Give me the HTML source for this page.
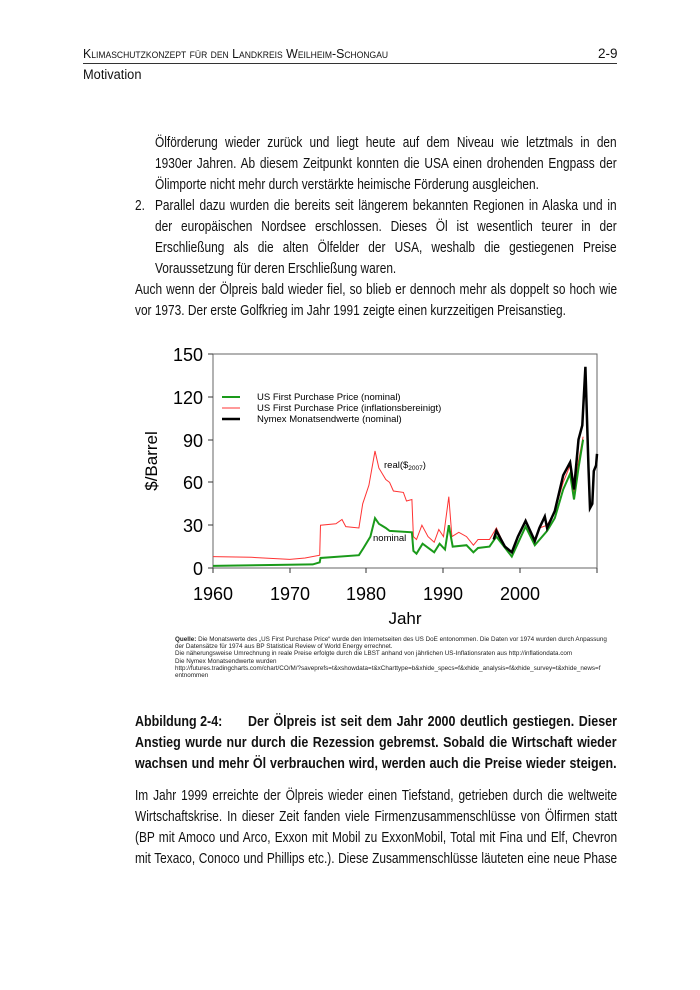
<!DOCTYPE html>
<html><head><meta charset="utf-8"><style>
body{margin:0;background:#fff;width:700px;height:990px;position:relative;overflow:hidden;font-family:"Liberation Sans",sans-serif;color:#111}
.l{position:absolute;font-size:14.5px;white-space:nowrap;line-height:1;transform:scaleX(0.82);transform-origin:0 0}
.j{text-align:justify;text-align-last:justify;white-space:nowrap}
.b{font-weight:bold;transform:scaleX(0.86)}
.s{position:absolute;left:175px;font-family:"Liberation Sans",sans-serif;font-size:6.3px;line-height:7.2px;width:440px;color:#222}
</style></head><body>
<div class="l" style="left:83px;top:47px;font-size:13px;font-variant:small-caps;transform:scaleX(0.95)">Klimaschutzkonzept für den Landkreis Weilheim-Schongau</div>
<div class="l" style="left:598px;top:47px;font-size:13.5px;transform:none">2-9</div>
<div style="position:absolute;left:83px;top:63px;width:534px;height:1px;background:#333"></div>
<div class="l" style="left:83px;top:68px;font-size:13.5px;transform:scaleX(0.95)">Motivation</div>

<div class="l j" style="left:155px;top:136px;width:563px">Ölförderung wieder zurück und liegt heute auf dem Niveau wie letztmals in den</div>
<div class="l j" style="left:155px;top:157px;width:563px">1930er Jahren. Ab diesem Zeitpunkt konnten die USA einen drohenden Engpass der</div>
<div class="l" style="left:155px;top:178px">Ölimporte nicht mehr durch verstärkte heimische Förderung ausgleichen.</div>
<div class="l" style="left:135px;top:199px">2.</div>
<div class="l j" style="left:155px;top:199px;width:563px">Parallel dazu wurden die bereits seit längerem bekannten Regionen in Alaska und in</div>
<div class="l j" style="left:155px;top:220px;width:563px">der europäischen Nordsee erschlossen. Dieses Öl ist wesentlich teurer in der</div>
<div class="l j" style="left:155px;top:241px;width:563px">Erschließung als die alten Ölfelder der USA, weshalb die gestiegenen Preise</div>
<div class="l" style="left:155px;top:262px">Voraussetzung für deren Erschließung waren.</div>
<div class="l j" style="left:135px;top:283px;width:588px">Auch wenn der Ölpreis bald wieder fiel, so blieb er dennoch mehr als doppelt so hoch wie</div>
<div class="l" style="left:135px;top:304px">vor 1973. Der erste Golfkrieg im Jahr 1991 zeigte einen kurzzeitigen Preisanstieg.</div>

<svg style="position:absolute;left:0;top:0" width="700" height="990">
<g font-family="Liberation Sans, sans-serif" fill="#000">
<rect x="213" y="354" width="384" height="214" fill="none" stroke="#666" stroke-width="1"/>
<g stroke="#333" stroke-width="1">
<line x1="208" y1="354" x2="213" y2="354"/><line x1="208" y1="397" x2="213" y2="397"/><line x1="208" y1="440" x2="213" y2="440"/><line x1="208" y1="482" x2="213" y2="482"/><line x1="208" y1="525" x2="213" y2="525"/><line x1="208" y1="568" x2="213" y2="568"/>
<line x1="213" y1="568" x2="213" y2="573"/><line x1="290" y1="568" x2="290" y2="573"/><line x1="366" y1="568" x2="366" y2="573"/><line x1="443" y1="568" x2="443" y2="573"/><line x1="520" y1="568" x2="520" y2="573"/><line x1="597" y1="568" x2="597" y2="573"/>
</g>
<g font-size="18" text-anchor="end">
<text x="203" y="361">150</text><text x="203" y="404">120</text><text x="203" y="447">90</text><text x="203" y="489">60</text><text x="203" y="532">30</text><text x="203" y="575">0</text>
</g>
<g font-size="18" text-anchor="middle">
<text x="213" y="600">1960</text><text x="290" y="600">1970</text><text x="366" y="600">1980</text><text x="443" y="600">1990</text><text x="520" y="600">2000</text>
<text x="405" y="624" font-size="17">Jahr</text>
</g>
<text transform="translate(157,461) rotate(-90)" font-size="17" text-anchor="middle">$/Barrel</text>
<line x1="222" y1="397" x2="240" y2="397" stroke="#1a9a1a" stroke-width="2"/>
<line x1="222" y1="408" x2="240" y2="408" stroke="#f33" stroke-width="1"/>
<line x1="222" y1="419" x2="240" y2="419" stroke="#000" stroke-width="2.5"/>
<g font-size="9.5"><text x="257" y="400">US First Purchase Price (nominal)</text><text x="257" y="411">US First Purchase Price (inflationsbereinigt)</text><text x="257" y="422">Nymex Monatsendwerte (nominal)</text></g>
<polyline fill="none" stroke="#f33" stroke-width="1" points="213,556.6 251.4,557.3 289.8,559.4 305.1,558 319.7,555.2 320.5,525.2 335.9,523.8 342,519.5 345.8,526.6 358.9,528 362.7,503.8 368.9,485.3 375,451 378.9,468.1 385.8,479.5 389.6,482.4 393.4,491 403.4,492.4 406.5,501 411.9,499.5 413.4,536.6 416.5,539.5 421.9,525.2 428,536.6 434.2,542.3 438.8,529.5 443.5,536.6 448.8,496.7 451.9,536.6 458.8,532.3 466.5,536.6 473.4,545.2 478,539.5 489.5,539.5 496.4,528 501,538 504.9,546.6 511.8,552.3 517.9,536.6 525.6,519.5 534.8,542.3 539.4,528 547.1,525.2 554.8,511 563.2,482.4 570.1,465.3 574,493.8 578.5,461 583.1,436.7"/>
<polyline fill="none" stroke="#1a9a1a" stroke-width="2" points="213,565.9 312.8,564.4 319.7,562.3 320.5,558 358.9,555.2 363.5,548 370.4,536.6 375,518.1 378.9,523.8 385.8,528 389.6,530.9 411.9,532.3 413.4,550.9 416.5,553.7 422.6,543.7 434.2,552.3 439.6,543.7 445,549.5 448.8,525.2 452.7,546.6 466.5,545.2 473.4,552.3 478,548 489.5,546.6 496.4,536.6 511.8,556.6 525.6,526.6 534.8,545.2 547.1,530.9 554.8,518.1 563.2,489.5 570.1,473.8 574,499.5 578.5,468.1 583.1,439.6"/>
<polyline fill="none" stroke="#000" stroke-width="2.5" points="493.7,539.5 496.4,530.9 501,539.5 504.9,546.6 511.8,552.3 517.9,536.6 525.6,520.9 534.8,540.9 539.4,528 544.8,516.6 547.1,528 554.8,511 563.2,475.3 570.1,462.4 574,489.5 578.5,439.6 582.3,425.3 585.4,366.8 588.5,468.1 590,508.1 592.3,503.8 593.8,471 596.1,465.3 597,453.9"/>
<text x="384" y="468" font-size="9.5">real($<tspan font-size="6.5" dy="2">2007</tspan><tspan dy="-2">)</tspan></text>
<text x="373" y="541" font-size="9.5">nominal</text>
</g></svg>

<div class="s" style="top:636px"><b>Quelle:</b> Die Monatswerte des „US First Purchase Price“ wurde den Internetseiten des US DoE entonommen. Die Daten vor 1974 wurden durch Anpassung der Datensätze für 1974 aus BP Statistical Review of World Energy errechnet.<br>Die näherungsweise Umrechnung in reale Preise erfolgte durch die LBST anhand von jährlichen US-Inflationsraten aus http://inflationdata.com<br>Die Nymex Monatsendwerte wurden<br>http://futures.tradingcharts.com/chart/CO/M/?saveprefs=t&amp;xshowdata=t&amp;xCharttype=b&amp;xhide_specs=f&amp;xhide_analysis=f&amp;xhide_survey=t&amp;xhide_news=f<br>entnommen</div>

<div class="l b" style="left:135px;top:715px">Abbildung 2-4:</div>
<div class="l b j" style="left:248px;top:715px;width:429px">Der Ölpreis ist seit dem Jahr 2000 deutlich gestiegen. Dieser</div>
<div class="l b j" style="left:135px;top:736px;width:560px">Anstieg wurde nur durch die Rezession gebremst. Sobald die Wirtschaft wieder</div>
<div class="l b j" style="left:135px;top:757px;width:560px">wachsen und mehr Öl verbrauchen wird, werden auch die Preise wieder steigen.</div>

<div class="l j" style="left:135px;top:789px;width:588px">Im Jahr 1999 erreichte der Ölpreis wieder einen Tiefstand, getrieben durch die weltweite</div>
<div class="l j" style="left:135px;top:810px;width:588px">Wirtschaftskrise. In dieser Zeit fanden viele Firmenzusammenschlüsse von Ölfirmen statt</div>
<div class="l j" style="left:135px;top:831px;width:588px">(BP mit Amoco und Arco, Exxon mit Mobil zu ExxonMobil, Total mit Fina und Elf, Chevron</div>
<div class="l j" style="left:135px;top:852px;width:588px">mit Texaco, Conoco und Phillips etc.). Diese Zusammenschlüsse läuteten eine neue Phase</div>
</body></html>
